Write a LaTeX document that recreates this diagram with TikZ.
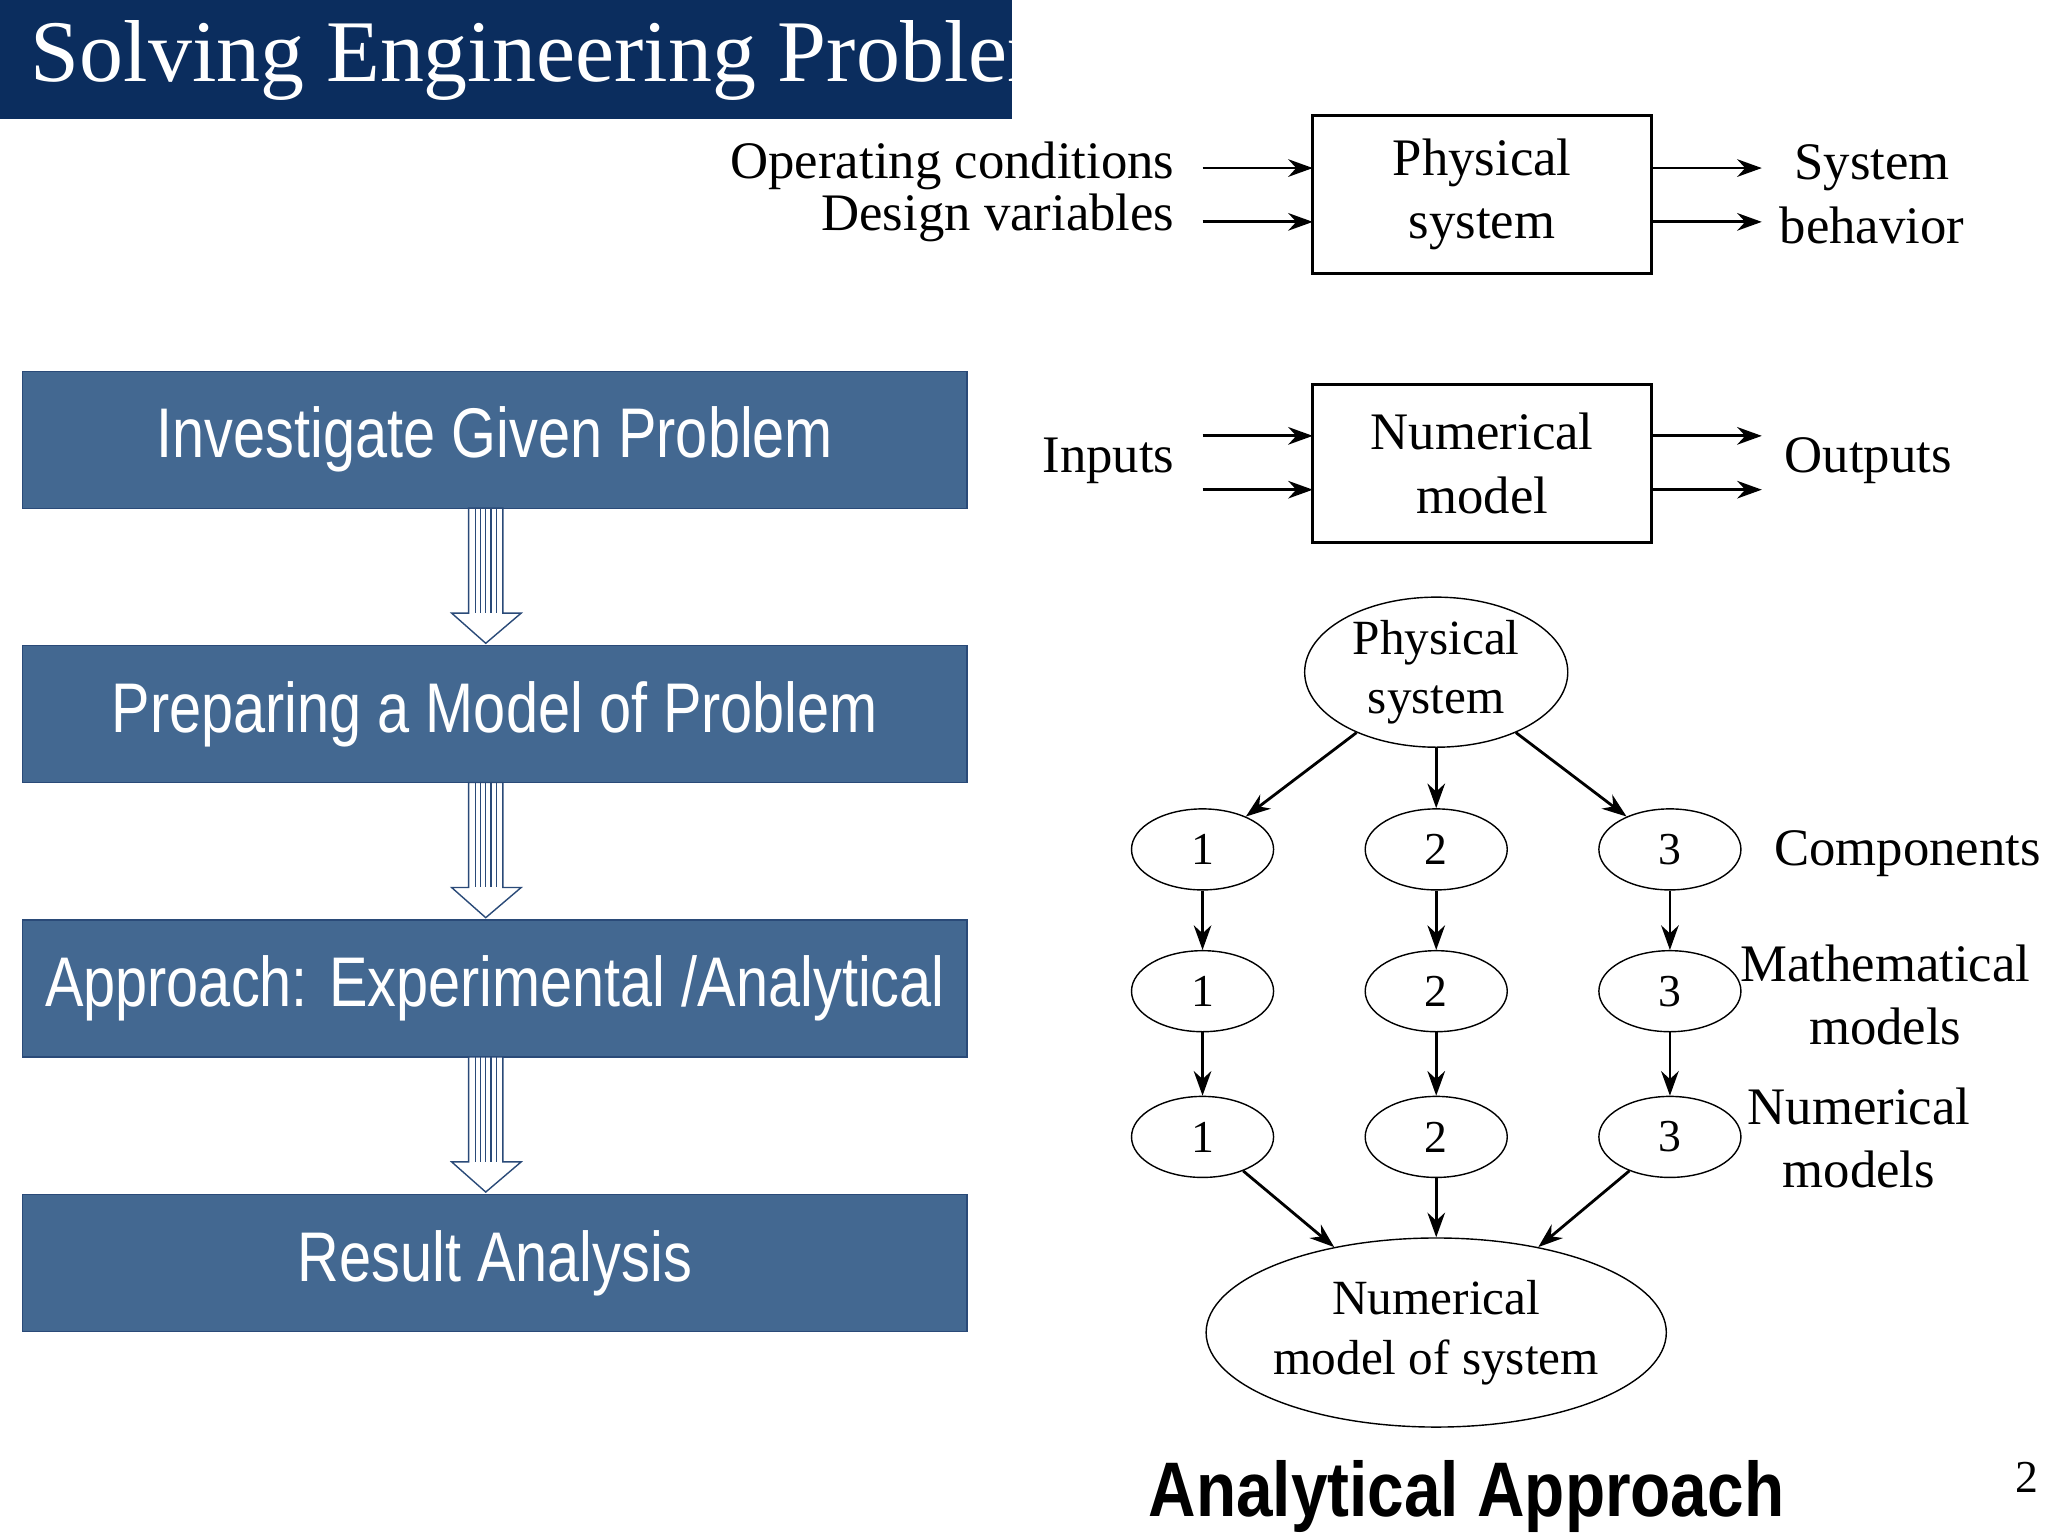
\documentclass[tikz,border=0pt]{standalone}
\usepackage{fontspec}
\setmainfont{Liberation Serif}
\newfontfamily\boxfont[FakeStretch=0.82]{Liberation Sans}
\newfontfamily\capfont[FakeStretch=0.85]{Liberation Sans}
\usetikzlibrary{arrows.meta,positioning,shapes.geometric}
\definecolor{titleblue}{HTML}{0B2D5E}
\definecolor{stepblue}{HTML}{436891}
\definecolor{stepedge}{HTML}{2A4A78}
\tikzset{
  stage/.style={draw=stepedge, fill=stepblue, text=white, minimum width=9.44cm,
    minimum height=1.37cm, font=\boxfont\fontsize{20}{22}\selectfont, inner sep=0pt},
  sysbox/.style={draw, thick, minimum width=3.39cm, minimum height=1.58cm,
    align=center, font=\fontsize{15}{18}\selectfont},
  small/.style={draw, ellipse, minimum width=1.42cm, minimum height=0.81cm,
    inner sep=0pt, font=\fontsize{13}{15}\selectfont},
  lbl/.style={font=\fontsize{15}{18}\selectfont, align=center},
  arr/.style={-{Stealth[length=7pt,width=5pt]}, thick}
}
\begin{document}
\begin{tikzpicture}[x=0.013128cm, y=-0.013128cm]
    \useasboundingbox (0,0) rectangle (1560,1170);

    % title
    \fill[titleblue] (0,0) rectangle (771,91);
    \node[anchor=west, text=white, font=\fontsize{25}{28}\selectfont] (title) at (14,46) {Solving Engineering Problem};

    % steps
    \node[stage] (s1) at (377,335) {Investigate Given Problem};
    \node[stage] (s2) at (377,544) {Preparing a Model of Problem};
    \node[stage] (s3) at (377,753) {Approach: Experimental /Analytical};
    \node[stage] (s4) at (377,962) {Result Analysis};

    \foreach \t in {387, 596, 805} {
        \draw[stepedge, fill=white, line join=miter]
            (357,\t) -- (357,\t+80) -- (344,\t+80) -- (370,\t+103) -- (397,\t+80)
            -- (383,\t+80) -- (383,\t) -- cycle;
        \foreach \s in {362, 366, 370, 374, 378}
            \draw[stepedge, thin] (\s,\t) -- (\s,\t+80);
    }

    % physical system block
    \node[sysbox] (phys) at (1129,148) {Physical\\system};
    \node[lbl, anchor=east] (oc) at (904,126) {Operating conditions};
    \node[lbl, anchor=east] (dv) at (904,166) {Design variables};
    \node[lbl] (beh) at (1426,148) {System\\behavior};
    \coordinate (oc1) at (916,128);  \coordinate (oc2) at (1000,128);
    \coordinate (dv1) at (916,169);  \coordinate (dv2) at (1000,169);
    \coordinate (pb1) at (1258,128); \coordinate (pb2) at (1342,128);
    \coordinate (pc1) at (1258,169); \coordinate (pc2) at (1342,169);
    \draw[arr] (oc1) -- (oc2);
    \draw[arr] (dv1) -- (dv2);
    \draw[arr] (pb1) -- (pb2);
    \draw[arr] (pc1) -- (pc2);

    % numerical model block
    \node[sysbox] (num) at (1129,353) {Numerical\\model};
    \node[lbl, anchor=east] (inp) at (904,351) {Inputs};
    \node[lbl, anchor=west] (outp) at (1350,351) {Outputs};
    \coordinate (i1) at (916,332);  \coordinate (i2) at (1000,332);
    \coordinate (j1) at (916,373);  \coordinate (j2) at (1000,373);
    \coordinate (o1) at (1258,332); \coordinate (o2) at (1342,332);
    \coordinate (p1) at (1258,373); \coordinate (p2) at (1342,373);
    \draw[arr] (i1) -- (i2);
    \draw[arr] (j1) -- (j2);
    \draw[arr] (o1) -- (o2);
    \draw[arr] (p1) -- (p2);

    % decomposition tree
    \node[draw, ellipse, minimum width=2.63cm, minimum height=1.50cm, inner sep=0pt,
        align=center, font=\fontsize{14}{17}\selectfont] (top) at (1094,512) {Physical\\system};
    \foreach \c/\x in {1/916, 2/1094, 3/1272} {
        \node[small] (c\c) at (\x,647) {\c};
        \node[small] (m\c) at (\x,755) {\c};
        \node[small] (n\c) at (\x,866) {\c};
        \draw[arr] (top) -- (c\c);
        \draw[arr] (c\c) -- (m\c);
        \draw[arr] (m\c) -- (n\c);
    }
    \node[draw, ellipse, minimum width=3.28cm, minimum height=1.89cm, inner sep=0pt,
        align=center, font=\fontsize{14}{17}\selectfont] (sys) at (1094,1015) {Numerical\\model of system};
    \foreach \c in {1,2,3}
        \draw[arr] (n\c) -- (sys);

    \node[lbl, anchor=west] (comp) at (1342,650) {Components};
    \node[lbl] (math) at (1436,758) {Mathematical\\models};
    \node[lbl] (nums) at (1416,867) {Numerical\\models};

    \node[font=\capfont\bfseries\fontsize{22}{26}\selectfont] (cap) at (1117,1140) {Analytical Approach};
    \node[font=\fontsize{13}{15}\selectfont] (page) at (1544,1125) {2};
\end{tikzpicture}
\end{document}
